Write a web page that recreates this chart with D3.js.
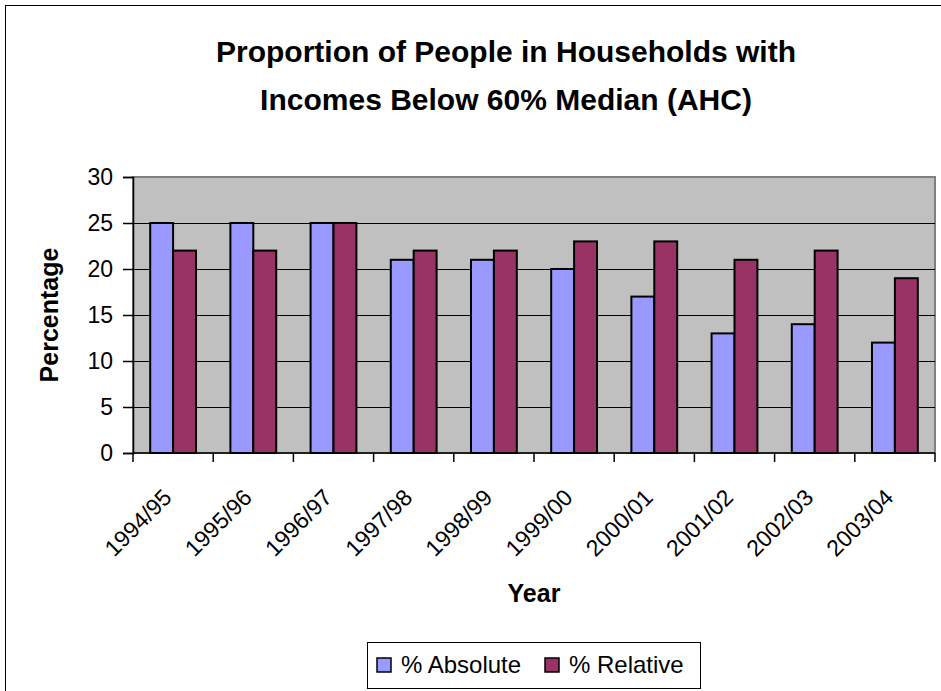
<!DOCTYPE html>
<html>
<head>
<meta charset="utf-8">
<script src="https://cdn.jsdelivr.net/npm/d3@7"></script>
<style>
  body { margin: 0; background: #fff; }
  svg text { font-family: "Liberation Sans", Arial, sans-serif; }
</style>
</head>
<body>
<div id="chart"></div>
<script>
// survey years on the x axis
var years = ["1994/95", "1995/96", "1996/97", "1997/98", "1998/99",
             "1999/00", "2000/01", "2001/02", "2002/03", "2003/04"];

// percentage of people below 60% of median income, after housing costs
var absoluteVals = [25, 25, 25, 21, 21, 20, 17, 13, 14, 12];
var relativeVals = [22, 22, 25, 22, 22, 23, 23, 21, 22, 19];

var seriesNames = ["% Absolute", "% Relative"];
var seriesColors = ["#9999ff", "#993366"];
var yTicks = [0, 5, 10, 15, 20, 25, 30];

var W = 941, H = 691;
var plot = { left: 133, right: 935, top: 177, bottom: 453 };

var svg = d3.select("#chart").append("svg")
  .attr("width", W)
  .attr("height", H);

// chart area frame (runs off the right/bottom of the page)
svg.append("rect")
  .attr("x", 5.5).attr("y", 5.5)
  .attr("width", 1120).attr("height", 720)
  .attr("fill", "#fff")
  .attr("stroke", "#000")
  .attr("stroke-width", 1);

// title
var title = svg.append("text")
  .attr("text-anchor", "middle")
  .attr("font-weight", "bold")
  .attr("font-size", 30);
title.append("tspan").attr("x", 506).attr("y", 62)
  .text("Proportion of People in Households with");
title.append("tspan").attr("x", 506).attr("y", 110)
  .text("Incomes Below 60% Median (AHC)");

// scales
var x = d3.scaleBand()
  .domain(years)
  .range([plot.left, plot.right])
  .padding(0);

var xInner = d3.scaleBand()
  .domain([0, 1])
  .range([0, x.bandwidth()])
  .paddingInner(0)
  .paddingOuter(0.75);

var y = d3.scaleLinear()
  .domain([0, 30])
  .range([plot.bottom, plot.top]);

// plot background
svg.append("rect")
  .attr("x", plot.left).attr("y", plot.top)
  .attr("width", plot.right - plot.left)
  .attr("height", plot.bottom - plot.top)
  .attr("fill", "#c0c0c0")
  .attr("stroke", "#808080")
  .attr("stroke-width", 2);

// gridlines
svg.append("g")
  .selectAll("line")
  .data(yTicks.filter(function(d) { return d > 0 && d < 30; }))
  .enter().append("line")
  .attr("x1", plot.left).attr("x2", plot.right)
  .attr("y1", function(d) { return Math.round(y(d)) + 0.5; })
  .attr("y2", function(d) { return Math.round(y(d)) + 0.5; })
  .attr("stroke", "#000")
  .attr("stroke-width", 1);

// bars
var rows = years.map(function(yr, i) {
  return { year: yr, values: [absoluteVals[i], relativeVals[i]] };
});

var groups = svg.append("g")
  .selectAll("g")
  .data(rows)
  .enter().append("g")
  .attr("transform", function(d) { return "translate(" + x(d.year) + ",0)"; });

groups.selectAll("rect")
  .data(function(d) { return d.values.map(function(v, k) { return { k: k, v: v }; }); })
  .enter().append("rect")
  .attr("x", function(d) { return xInner(d.k); })
  .attr("y", function(d) { return y(d.v); })
  .attr("width", xInner.bandwidth())
  .attr("height", function(d) { return y(0) - y(d.v); })
  .attr("fill", function(d) { return seriesColors[d.k]; })
  .attr("stroke", "#000")
  .attr("stroke-width", 2);

// y axis
var yAxis = svg.append("g")
  .attr("transform", "translate(" + plot.left + ",0)")
  .call(d3.axisLeft(y).tickValues(yTicks).tickSize(10).tickPadding(10));
yAxis.select(".domain").attr("stroke", "#000").attr("stroke-width", 1.5);
yAxis.selectAll(".tick line").attr("stroke", "#000").attr("stroke-width", 1.5);
yAxis.selectAll(".tick text")
  .attr("font-size", 23)
  .attr("fill", "#000")
  .attr("font-family", "Liberation Sans, Arial, sans-serif");

// x axis: ticks sit between categories
var xAxisG = svg.append("g");
xAxisG.append("line")
  .attr("x1", plot.left).attr("x2", plot.right)
  .attr("y1", plot.bottom).attr("y2", plot.bottom)
  .attr("stroke", "#000").attr("stroke-width", 1.5);
xAxisG.selectAll("line.tk")
  .data(years.concat([null]))
  .enter().append("line")
  .attr("class", "tk")
  .attr("x1", function(d, i) { return plot.left + i * x.step(); })
  .attr("x2", function(d, i) { return plot.left + i * x.step(); })
  .attr("y1", plot.bottom).attr("y2", plot.bottom + 9)
  .attr("stroke", "#000").attr("stroke-width", 1.5);

xAxisG.selectAll("text")
  .data(years)
  .enter().append("text")
  .attr("text-anchor", "end")
  .attr("font-size", 23)
  .attr("transform", function(d) {
    return "translate(" + (x(d) + x.bandwidth() / 2) + "," + (plot.bottom + 46) + ") rotate(-45)";
  })
  .text(function(d) { return d; });

// axis titles
svg.append("text")
  .attr("text-anchor", "middle")
  .attr("font-weight", "bold")
  .attr("font-size", 25)
  .attr("transform", "translate(58," + ((plot.top + plot.bottom) / 2) + ") rotate(-90)")
  .text("Percentage");

svg.append("text")
  .attr("text-anchor", "middle")
  .attr("font-weight", "bold")
  .attr("font-size", 25)
  .attr("x", (plot.left + plot.right) / 2)
  .attr("y", 602)
  .text("Year");

// legend
var legend = svg.append("g");
legend.append("rect")
  .attr("x", 367.5).attr("y", 642.5)
  .attr("width", 333).attr("height", 46)
  .attr("fill", "#fff")
  .attr("stroke", "#000")
  .attr("stroke-width", 1);

var legendX = [377, 545];
seriesNames.forEach(function(name, k) {
  legend.append("rect")
    .attr("x", legendX[k]).attr("y", 658)
    .attr("width", 14).attr("height", 14)
    .attr("fill", seriesColors[k])
    .attr("stroke", "#000")
    .attr("stroke-width", 1.5);
  legend.append("text")
    .attr("x", legendX[k] + 24)
    .attr("y", 673)
    .attr("font-size", 24)
    .text(name);
});
</script>
</body>
</html>
